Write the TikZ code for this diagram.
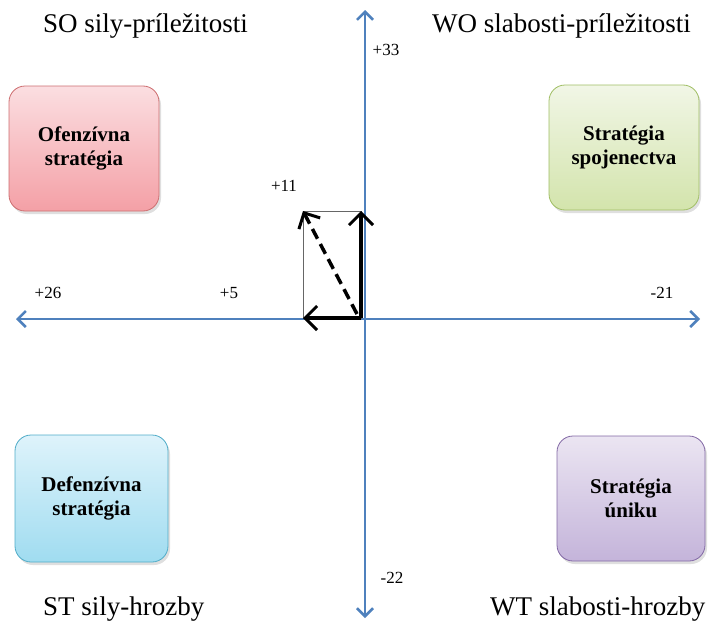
\documentclass[tikz,border=0pt]{standalone}
\usepackage{fontspec}
\setmainfont{Liberation Serif}
\usetikzlibrary{arrows.meta,shadows}
\definecolor{axisblue}{RGB}{79,129,189}
\definecolor{redtop}{RGB}{251,222,225}
\definecolor{redbot}{RGB}{244,160,166}
\definecolor{redline}{RGB}{205,110,112}
\definecolor{greentop}{RGB}{241,246,230}
\definecolor{greenbot}{RGB}{211,228,172}
\definecolor{greenline}{RGB}{160,190,100}
\definecolor{bluetop}{RGB}{222,243,251}
\definecolor{bluebot}{RGB}{160,220,240}
\definecolor{blueline}{RGB}{80,172,200}
\definecolor{purptop}{RGB}{235,229,242}
\definecolor{purpbot}{RGB}{196,180,218}
\definecolor{purpline}{RGB}{130,104,165}
\begin{document}
\begin{tikzpicture}[x=1pt,y=-1pt,
  quad/.style={rounded corners=16pt, draw, line width=0.8pt,
    minimum width=150pt, minimum height=125pt, align=center,
    font=\fontsize{21}{24}\selectfont\bfseries,
    drop shadow={shadow xshift=2pt,shadow yshift=-3pt,opacity=0.25}},
  title/.style={anchor=base west, inner sep=0pt, font=\fontsize{27}{30}\selectfont},
  num/.style={inner sep=0pt, font=\fontsize{17}{19}\selectfont},
  axis/.style={draw=axisblue, line width=2.5pt,
    {Straight Barb[length=8pt,width=16pt,line width=2.5pt]}-{Straight Barb[length=8pt,width=16pt,line width=2.5pt]}},
  vec/.style={draw=black, line width=3.5pt, -{Straight Barb[length=12pt,width=24pt,line width=3pt]}}
]
\useasboundingbox (0,0) rectangle (710,621);

% boxes
\node[quad, draw=redline, top color=redtop, bottom color=redbot] (ofe) at (84,148.5) {Ofenzívna\\stratégia};
\node[quad, draw=greenline, top color=greentop, bottom color=greenbot] (spo) at (624,147.5) {Stratégia\\spojenectva};
\node[quad, draw=blueline, top color=bluetop, bottom color=bluebot, minimum width=153pt, minimum height=127pt] (def) at (91.5,498.5) {Defenzívna\\stratégia};
\node[quad, draw=purpline, top color=purptop, bottom color=purpbot, minimum width=148pt] (uni) at (631,498.5) {Stratégia\\úniku};

% titles
\node[title] (so) at (43,32) {SO sily-príležitosti};
\node[title] (wo) at (432,32) {WO slabosti-príležitosti};
\node[title] (st) at (43,615) {ST sily-hrozby};
\node[title] (wt) at (490,615) {WT slabosti-hrozby};

% axes
\coordinate (ytop) at (365,10);
\coordinate (ybot) at (365,618);
\coordinate (xleft) at (16,319);
\coordinate (xright) at (700,319);
\draw[axis] (ybot) -- (ytop);
\draw[axis] (xleft) -- (xright);

% numbers
\node[num] (n33) at (386,50) {+33};
\node[num] (n22) at (392,578) {-22};
\node[num] (n26) at (48,293) {+26};
\node[num] (n5) at (229,293) {+5};
\node[num] (n21) at (662,293) {-21};
\node[num] (n11) at (284,186) {+11};

% vectors
\coordinate (O) at (361,318);
\coordinate (A) at (361,211);
\coordinate (B) at (303,318);
\coordinate (C) at (303,211);
\coordinate (Od) at (357,314);
\draw[black!60, line width=1pt] (C) rectangle (O);
\draw[vec] (O) -- (A);
\draw[vec] (O) -- (B);
\draw[vec, dash pattern=on 11pt off 6pt] (Od) -- (C);
\end{tikzpicture}
\end{document}
